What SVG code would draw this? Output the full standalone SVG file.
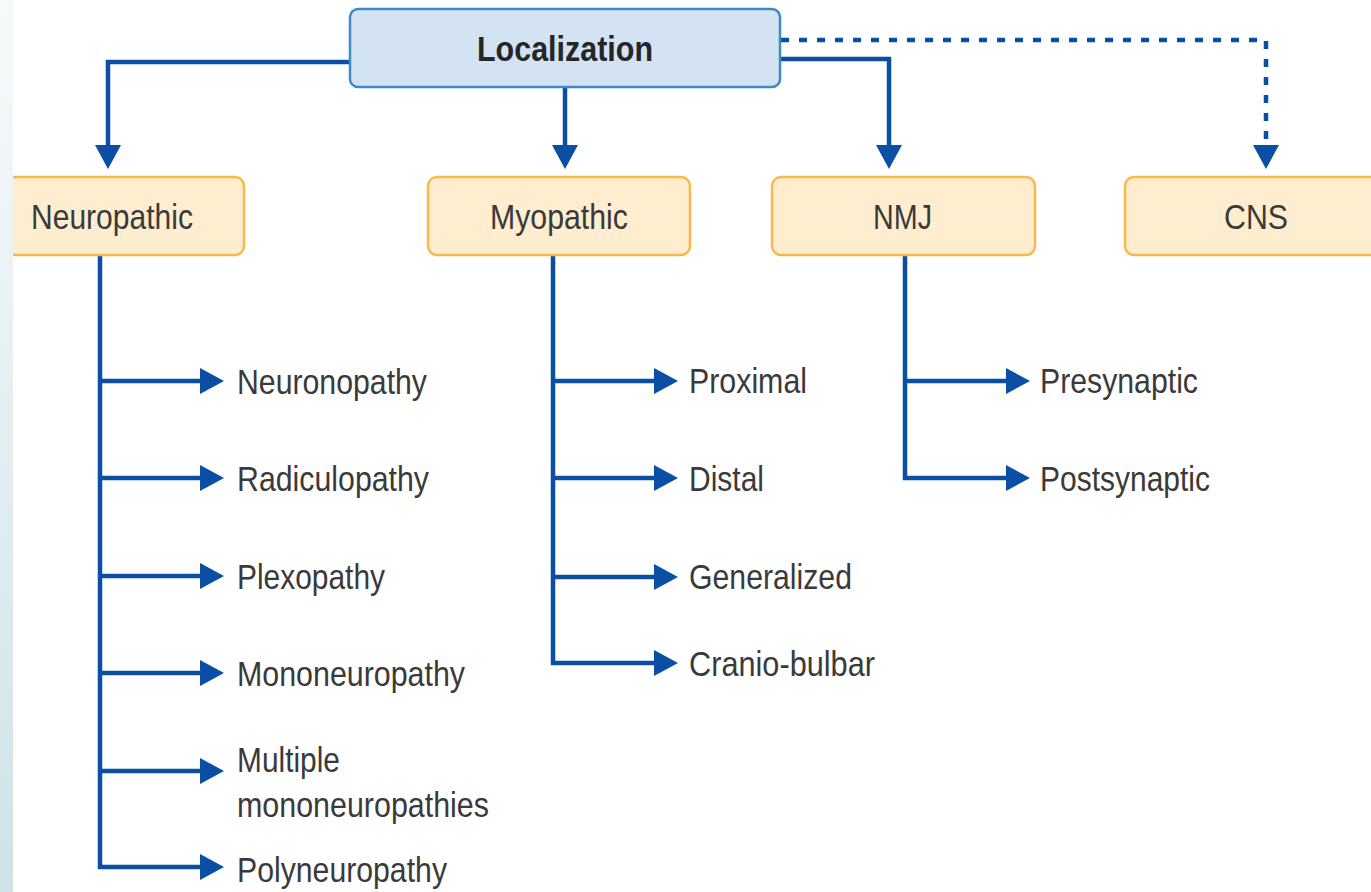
<svg xmlns="http://www.w3.org/2000/svg" width="1371" height="892" viewBox="0 0 1371 892">
  <style>
    .root { fill: #d3e3f4; stroke: #3e8ac5; stroke-width: 2.5; }
    .cat { fill: #feedcf; stroke: #f9b84a; stroke-width: 2.5; }
    .lbl { font-family: "Liberation Sans", Arial, sans-serif; font-size: 35px; fill: #3a3a3a; }
    .bold { font-weight: bold; fill: #262626; }
    .mid { text-anchor: middle; }
    .con { fill: none; stroke: #0a4fa3; stroke-width: 4.5; }
    .dot { stroke-dasharray: 8 10; }
  </style>
  <defs>
    <marker id="arr" markerUnits="userSpaceOnUse" markerWidth="26" markerHeight="28" refX="12" refY="13" orient="auto">
      <path d="M0,0 L24,13 L0,26 Z" fill="#0a4fa3"/>
    </marker>
    <linearGradient id="strip" x1="0" y1="0" x2="0" y2="1">
      <stop offset="0" stop-color="#f7fafb"/>
      <stop offset="1" stop-color="#cfe2e8"/>
    </linearGradient>
  </defs>
  <rect x="0" y="0" width="1371" height="892" fill="#ffffff"/>

  <g id="connectors">
    <path class="con" d="M350,62 H108 V157" marker-end="url(#arr)"/>
    <path class="con" d="M565,87 V157" marker-end="url(#arr)"/>
    <path class="con" d="M780,59 H889 V157" marker-end="url(#arr)"/>
    <path class="con dot" d="M781,40 H1266 V140"/>
    <path class="con" d="M1266,150 V157" marker-end="url(#arr)"/>

    <path class="con" d="M100,255 V867 H212" marker-end="url(#arr)"/>
    <path class="con" d="M100,381 H212" marker-end="url(#arr)"/>
    <path class="con" d="M100,478 H212" marker-end="url(#arr)"/>
    <path class="con" d="M100,576 H212" marker-end="url(#arr)"/>
    <path class="con" d="M100,673 H212" marker-end="url(#arr)"/>
    <path class="con" d="M100,771 H212" marker-end="url(#arr)"/>

    <path class="con" d="M553,255 V663 H666" marker-end="url(#arr)"/>
    <path class="con" d="M553,381 H666" marker-end="url(#arr)"/>
    <path class="con" d="M553,478 H666" marker-end="url(#arr)"/>
    <path class="con" d="M553,577 H666" marker-end="url(#arr)"/>

    <path class="con" d="M905,255 V478 H1018" marker-end="url(#arr)"/>
    <path class="con" d="M905,381 H1018" marker-end="url(#arr)"/>
  </g>

  <g id="localization">
    <rect class="root" x="350" y="9" width="430" height="78" rx="8"/>
    <text class="lbl bold" x="477" y="61" textLength="176" lengthAdjust="spacingAndGlyphs">Localization</text>
  </g>
  <g id="neuropathic">
    <rect class="cat" x="-18" y="177" width="262" height="78" rx="9"/>
    <text class="lbl" x="31" y="229" textLength="162" lengthAdjust="spacingAndGlyphs">Neuropathic</text>
  </g>
  <g id="myopathic">
    <rect class="cat" x="428" y="177" width="262" height="78" rx="9"/>
    <text class="lbl" x="490" y="229" textLength="138" lengthAdjust="spacingAndGlyphs">Myopathic</text>
  </g>
  <g id="nmj">
    <rect class="cat" x="772" y="177" width="263" height="78" rx="9"/>
    <text class="lbl" x="873" y="229" textLength="59" lengthAdjust="spacingAndGlyphs">NMJ</text>
  </g>
  <g id="cns">
    <rect class="cat" x="1125" y="177" width="262" height="78" rx="9"/>
    <text class="lbl" x="1224" y="229" textLength="64" lengthAdjust="spacingAndGlyphs">CNS</text>
  </g>

  <g id="neuronopathy"><text class="lbl" x="237" y="394" textLength="190" lengthAdjust="spacingAndGlyphs">Neuronopathy</text></g>
  <g id="radiculopathy"><text class="lbl" x="237" y="491" textLength="192" lengthAdjust="spacingAndGlyphs">Radiculopathy</text></g>
  <g id="plexopathy"><text class="lbl" x="237" y="589" textLength="148" lengthAdjust="spacingAndGlyphs">Plexopathy</text></g>
  <g id="mononeuropathy"><text class="lbl" x="237" y="686" textLength="228" lengthAdjust="spacingAndGlyphs">Mononeuropathy</text></g>
  <g id="multiple-mononeuropathies">
    <text class="lbl" x="237" y="772" textLength="103" lengthAdjust="spacingAndGlyphs">Multiple</text>
    <text class="lbl" x="237" y="817" textLength="252" lengthAdjust="spacingAndGlyphs">mononeuropathies</text>
  </g>
  <g id="polyneuropathy"><text class="lbl" x="237" y="882" textLength="210" lengthAdjust="spacingAndGlyphs">Polyneuropathy</text></g>

  <g id="proximal"><text class="lbl" x="689" y="393" textLength="118" lengthAdjust="spacingAndGlyphs">Proximal</text></g>
  <g id="distal"><text class="lbl" x="689" y="491" textLength="75" lengthAdjust="spacingAndGlyphs">Distal</text></g>
  <g id="generalized"><text class="lbl" x="689" y="589" textLength="163" lengthAdjust="spacingAndGlyphs">Generalized</text></g>
  <g id="cranio-bulbar"><text class="lbl" x="689" y="676" textLength="186" lengthAdjust="spacingAndGlyphs">Cranio-bulbar</text></g>

  <g id="presynaptic"><text class="lbl" x="1040" y="393" textLength="158" lengthAdjust="spacingAndGlyphs">Presynaptic</text></g>
  <g id="postsynaptic"><text class="lbl" x="1040" y="491" textLength="170" lengthAdjust="spacingAndGlyphs">Postsynaptic</text></g>

  <rect x="0" y="0" width="13" height="892" fill="url(#strip)"/>
</svg>
